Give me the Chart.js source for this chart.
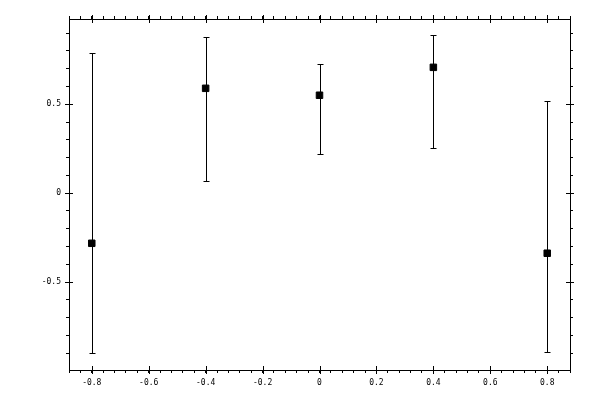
<!DOCTYPE html>
<html>
<head>
<meta charset="utf-8">
<script src="https://cdn.jsdelivr.net/npm/chart.js@4"></script>
<style>
  html, body { margin: 0; padding: 0; background: #fff; }
  #wrap { width: 600px; height: 400px; }
</style>
</head>
<body>
<div id="wrap"><canvas id="errChart"></canvas></div>
<script>
// data
const xValues = [-0.8, -0.4, 0, 0.4, 0.8];
const yValues = [-0.282, 0.59, 0.551, 0.708, -0.338];
const yUpper = [0.791, 0.877, 0.725, 0.889, 0.517];
const yLower = [-0.9, 0.067, 0.219, 0.253, -0.895];

const xTickLabels = [-0.8, -0.6, -0.4, -0.2, 0, 0.2, 0.4, 0.6, 0.8];
const yTickLabels = [-0.5, 0, 0.5];

const xRange = [-0.88, 0.88];
const yRange = [-0.995, 0.98];
const xMinorStep = 0.04;
const yMinorStep = 0.1;

function minorTicks(range, step) {
    const out = [];
    const start = Math.ceil(range[0] / step - 1e-9);
    const end = Math.floor(range[1] / step + 1e-9);
    for (let i = start; i <= end; i++) out.push({ value: +(i * step).toFixed(6) });
    return out;
}

function isMajor(v, list) {
    return list.some(m => Math.abs(m - v) < 1e-6);
}

const font = { family: 'DejaVu Sans Mono', size: 8 };

function axis(pos, range, step, majors, showLabels, fitSize) {
    const horiz = pos === 'bottom' || pos === 'top';
    return {
        type: 'linear',
        position: pos,
        min: range[0],
        max: range[1],
        afterBuildTicks: s => { s.ticks = minorTicks(range, step); },
        afterFit: s => {
            if (horiz) s.height = fitSize; else s.width = fitSize;
        },
        grid: {
            drawOnChartArea: false,
            drawTicks: true,
            tickLength: 3,
            color: '#000',
            lineWidth: 1
        },
        border: { display: true, color: '#000', width: 1 },
        ticks: {
            display: showLabels,
            autoSkip: false,
            maxRotation: 0,
            padding: 5,
            color: '#000',
            font: font,
            callback: v => isMajor(v, majors) ? String(+v.toFixed(2)) : ''
        }
    };
}

// error bars + inward major ticks, placed through the chart scales
const errorBars = {
    id: 'errorBars',
    beforeDatasetsDraw(chart) {
        const ctx = chart.ctx;
        const xs = chart.scales.x, ys = chart.scales.y;
        ctx.save();
        ctx.strokeStyle = '#000';
        ctx.lineWidth = 1;
        xValues.forEach((xv, i) => {
            const px = Math.round(xs.getPixelForValue(xv)) + 0.5;
            const top = Math.round(ys.getPixelForValue(yUpper[i])) + 0.5;
            const bot = Math.round(ys.getPixelForValue(yLower[i])) + 0.5;
            ctx.beginPath();
            ctx.moveTo(px, top); ctx.lineTo(px, bot);
            ctx.moveTo(px - 3, top); ctx.lineTo(px + 3, top);
            ctx.moveTo(px - 3, bot); ctx.lineTo(px + 3, bot);
            ctx.stroke();
        });
        ctx.restore();
    },
    afterDraw(chart) {
        const ctx = chart.ctx;
        const a = chart.chartArea;
        const xs = chart.scales.x, ys = chart.scales.y;
        ctx.save();
        ctx.strokeStyle = '#000';
        ctx.lineWidth = 1;
        ctx.beginPath();
        xTickLabels.forEach(v => {
            const px = Math.round(xs.getPixelForValue(v)) + 0.5;
            ctx.moveTo(px, a.bottom + 4); ctx.lineTo(px, a.bottom - 4);
            ctx.moveTo(px, a.top - 4); ctx.lineTo(px, a.top + 4);
        });
        yTickLabels.forEach(v => {
            const py = Math.round(ys.getPixelForValue(v)) + 0.5;
            ctx.moveTo(a.left - 4, py); ctx.lineTo(a.left + 4, py);
            ctx.moveTo(a.right - 4, py); ctx.lineTo(a.right + 4, py);
        });
        ctx.stroke();
        ctx.restore();
    }
};

new Chart(document.getElementById('errChart'), {
    type: 'scatter',
    data: {
        datasets: [{
            data: xValues.map((x, i) => ({ x: x, y: yValues[i] })),
            pointStyle: 'rect',
            pointRadius: 4.6,
            pointHoverRadius: 4.6,
            backgroundColor: '#000',
            borderColor: '#000',
            borderWidth: 1
        }]
    },
    options: {
        responsive: true,
        maintainAspectRatio: false,
        animation: false,
        devicePixelRatio: 1,
        layout: { padding: 0 },
        plugins: {
            legend: { display: false },
            tooltip: { enabled: false }
        },
        scales: {
            x: axis('bottom', xRange, xMinorStep, xTickLabels, true, 30),
            x2: axis('top', xRange, xMinorStep, xTickLabels, false, 19),
            y: axis('left', yRange, yMinorStep, yTickLabels, true, 69),
            y2: axis('right', yRange, yMinorStep, yTickLabels, false, 30)
        }
    },
    plugins: [errorBars]
});
</script>
</body>
</html>
